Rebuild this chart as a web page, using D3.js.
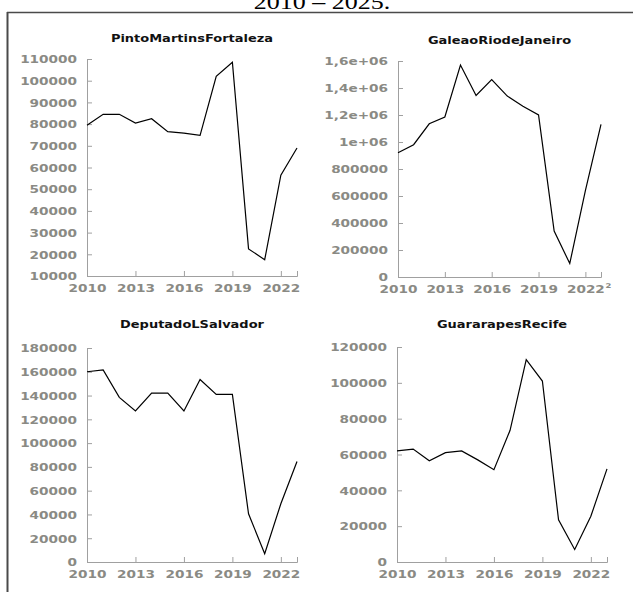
<!DOCTYPE html>
<html>
<head>
<meta charset="utf-8">
<script src="https://cdn.jsdelivr.net/npm/d3@7/dist/d3.min.js"></script>
<style>
  html, body { margin: 0; padding: 0; background: #fff; }
  svg { display: block; }
</style>
</head>
<body>
<svg id="chart" width="633" height="595"></svg>
<script>
// ---------------- data ----------------
const years = [2010, 2011, 2012, 2013, 2014, 2015, 2016, 2017, 2018, 2019, 2020, 2021, 2022, 2023];
const pintoMartinsFortaleza = [79500, 84500, 84500, 80500, 82500, 76500, 75800, 74800, 102000, 108500, 22500, 17500, 56500, 69000];
const galeaoRioDeJaneiro = [920000, 980000, 1135000, 1185000, 1570000, 1345000, 1462000, 1340000, 1265000, 1200000, 340000, 100000, 640000, 1130000];
const deputadoLSalvador = [160000, 161500, 138500, 127000, 142000, 142000, 127000, 153500, 141000, 141000, 40500, 7000, 49000, 84500];
const guararapesRecife = [62000, 63000, 56500, 61000, 62000, 57000, 51500, 73500, 113000, 101000, 23500, 7000, 25500, 52000];

const panelTitles = ["PintoMartinsFortaleza", "GaleaoRiodeJaneiro", "DeputadoLSalvador", "GuararapesRecife"];
const xTickYears = [2010, 2013, 2016, 2019, 2022];
const yTicksFortaleza = [10000, 20000, 30000, 40000, 50000, 60000, 70000, 80000, 90000, 100000, 110000];
const yTicksGaleao = [0, 200000, 400000, 600000, 800000, 1000000, 1200000, 1400000, 1600000];
const yTickLabelsGaleao = ["0", "200000", "400000", "600000", "800000", "1e+06", "1,2e+06", "1,4e+06", "1,6e+06"];
const yTicksSalvador = [0, 20000, 40000, 60000, 80000, 100000, 120000, 140000, 160000, 180000];
const yTicksRecife = [0, 20000, 40000, 60000, 80000, 100000, 120000];
const headerText = "2010 – 2025.";
const clippedMark = "2";

// ---------------- layout ----------------
const S = 1.3; // horizontal text stretch seen in the reference
const svg = d3.select("#chart");

// frame lines
svg.append("line").attr("x1", 7).attr("x2", 633).attr("y1", 12.5).attr("y2", 12.5)
  .attr("stroke", "#4a4a4a").attr("stroke-width", 1.5);
svg.append("line").attr("x1", 7.5).attr("x2", 7.5).attr("y1", 12).attr("y2", 592)
  .attr("stroke", "#4a4a4a").attr("stroke-width", 2);

// header text (partly cut at the top, as in the reference)
svg.append("text").text(headerText)
  .attr("x", 322 / S).attr("y", 8.5)
  .attr("transform", `scale(${S},1)`)
  .attr("text-anchor", "middle")
  .attr("font-family", "Liberation Serif, Times New Roman, serif")
  .attr("font-size", 20).attr("fill", "#000");

const panels = [
  { title: panelTitles[0], values: pintoMartinsFortaleza, domain: [10000, 110000], ticks: yTicksFortaleza, labels: null,
    xr: [87, 297], yr: [276, 59], titleY: 42 },
  { title: panelTitles[1], values: galeaoRioDeJaneiro, domain: [0, 1600000], ticks: yTicksGaleao, labels: yTickLabelsGaleao,
    xr: [398, 601], yr: [277, 61], titleY: 44 },
  { title: panelTitles[2], values: deputadoLSalvador, domain: [0, 180000], ticks: yTicksSalvador, labels: null,
    xr: [87, 297], yr: [562, 348], titleY: 328.5 },
  { title: panelTitles[3], values: guararapesRecife, domain: [0, 120000], ticks: yTicksRecife, labels: null,
    xr: [397, 607], yr: [562, 347], titleY: 328.5 }
];

const axisColor = "#a0a0a0";
const labelColor = "#8a8a84";
const fontFam = "DejaVu Sans, Verdana, sans-serif";

panels.forEach((p, pi) => {
  const x = d3.scaleLinear().domain([years[0], years[years.length - 1]]).range(p.xr);
  const y = d3.scaleLinear().domain(p.domain).range(p.yr);
  const g = svg.append("g");

  // y axis
  const yAxis = d3.axisLeft(y).tickValues(p.ticks).tickSize(-5)
    .tickFormat((d, i) => p.labels ? p.labels[i] : String(d));
  const ya = g.append("g").attr("transform", `translate(${p.xr[0]},0)`).call(yAxis);
  ya.select(".domain").attr("stroke", axisColor);
  ya.selectAll(".tick line").attr("stroke", axisColor);
  ya.selectAll(".tick text")
    .attr("x", -10 / S).attr("dy", "0.36em")
    .attr("transform", `scale(${S},1)`)
    .attr("fill", labelColor).attr("font-family", fontFam)
    .attr("font-weight", "bold").attr("font-size", 10.5);

  // x axis
  const xAxis = d3.axisBottom(x).tickValues(xTickYears).tickSize(-5).tickFormat(d3.format("d"));
  const xa = g.append("g").attr("transform", `translate(0,${p.yr[0]})`).call(xAxis);
  xa.select(".domain").attr("stroke", axisColor);
  xa.selectAll(".tick line").attr("stroke", axisColor);
  xa.selectAll(".tick text")
    .attr("y", 16).attr("dy", 0)
    .attr("transform", `scale(${S},1)`)
    .attr("fill", labelColor).attr("font-family", fontFam)
    .attr("font-weight", "bold").attr("font-size", 10.5);

  // small clipped glyph after the last label of the Galeao panel
  if (pi === 1) {
    xa.append("text").text(clippedMark)
      .attr("x", (x(2022) + 23) / S).attr("y", 11)
      .attr("transform", `translate(${-x(2022) * 0},0) scale(${S},1)`)
      .attr("fill", labelColor).attr("font-family", fontFam)
      .attr("font-weight", "bold").attr("font-size", 6.5);
  }

  // title
  g.append("text").text(p.title)
    .attr("x", (p.xr[0] + p.xr[1]) / 2 / S).attr("y", p.titleY)
    .attr("transform", `scale(${S},1)`)
    .attr("text-anchor", "middle")
    .attr("font-family", fontFam).attr("font-weight", "bold")
    .attr("font-size", 10).attr("fill", "#111");

  // line
  const line = d3.line().x((d, i) => x(years[i])).y(d => y(d));
  g.append("path").datum(p.values)
    .attr("d", line).attr("fill", "none")
    .attr("stroke", "#000").attr("stroke-width", 1.2);
});
</script>
</body>
</html>
